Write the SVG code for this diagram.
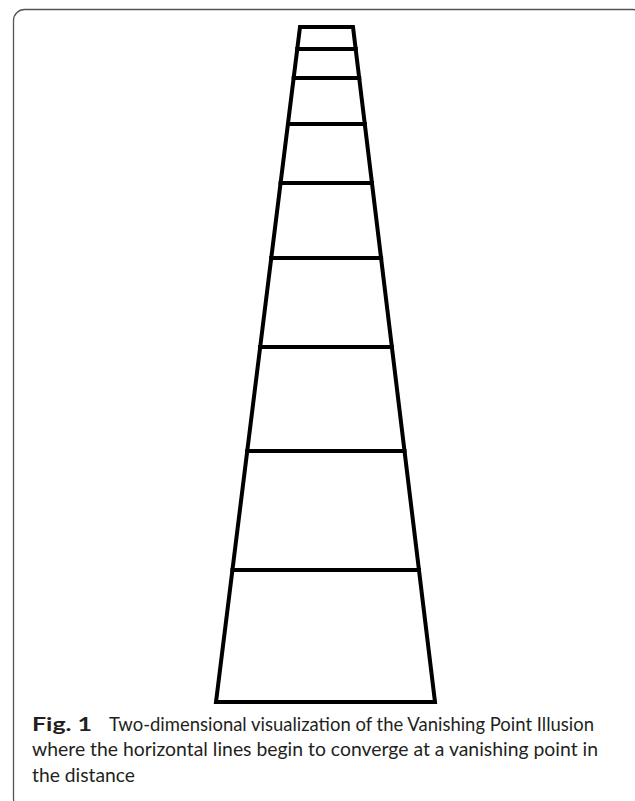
<svg xmlns="http://www.w3.org/2000/svg" width="635" height="801" viewBox="0 0 635 801">
<style>
.ln{stroke:#000;stroke-width:4;fill:none;stroke-linecap:square}
.cap{font-family:Lato,"Open Sans","Noto Sans",sans-serif;font-size:19px;fill:#231f20}
</style>
<rect x="0" y="0" width="635" height="801" fill="#fff"/>
<rect id="frame" x="13.5" y="9.5" width="630" height="800" rx="11" ry="11" fill="none" stroke="#555" stroke-width="1.3"/>
<g id="ladder">
<path class="ln" d="M300,27 L353,27 L435,702 L216,702 Z" stroke-linejoin="miter"/>
<g id="rungs">
<line class="ln" x1="297.3" y1="49" x2="355.7" y2="49"/>
<line class="ln" x1="293.7" y1="78" x2="359.2" y2="78"/>
<line class="ln" x1="288" y1="124" x2="364.8" y2="124"/>
<line class="ln" x1="280.6" y1="183" x2="372" y2="183"/>
<line class="ln" x1="271.3" y1="258" x2="381.1" y2="258"/>
<line class="ln" x1="260.2" y1="347" x2="391.9" y2="347"/>
<line class="ln" x1="247.3" y1="451" x2="404.5" y2="451"/>
<line class="ln" x1="232.5" y1="570" x2="419" y2="570"/>
</g>
</g>
<g id="caption">
<text class="cap" x="32" y="731" font-weight="bold" textLength="60" lengthAdjust="spacingAndGlyphs">Fig. 1</text>
<text class="cap" x="109" y="731" textLength="485" lengthAdjust="spacingAndGlyphs">Two-dimensional visualization of the Vanishing Point Illusion</text>
<text class="cap" x="32" y="756" textLength="566" lengthAdjust="spacingAndGlyphs">where the horizontal lines begin to converge at a vanishing point in</text>
<text class="cap" x="32" y="782" textLength="103" lengthAdjust="spacingAndGlyphs">the distance</text>
</g>
</svg>
